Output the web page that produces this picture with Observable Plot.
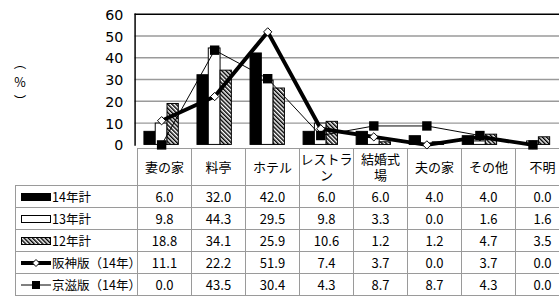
<!DOCTYPE html>
<html><head><meta charset="utf-8">
<script src="https://cdn.jsdelivr.net/npm/d3@7"></script>
<script src="https://cdn.jsdelivr.net/npm/@observablehq/plot@0.6"></script>
<style>
html,body{margin:0;padding:0;background:#fff;overflow:hidden;width:559px;height:297px}
#wrap{position:relative;width:559px;height:297px;overflow:hidden}
#chart{position:absolute;left:0;top:0;z-index:2}
#chart svg{background:transparent !important;overflow:visible}
#ylab{position:absolute;left:11px;top:53px;width:18px;text-align:center;font:12.5px/19px "Noto Sans CJK JP";color:#000}
#ylab span{display:block}
table{position:absolute;left:15px;top:148px;border-collapse:collapse;table-layout:fixed;width:554px;
  font-family:"Noto Sans CJK JP";font-size:13px;color:#000;z-index:1}
td,th{border:1px solid #9a9a9a;padding:0;text-align:center;font-weight:normal;white-space:pre-line;line-height:16px}
tr.hdr th{height:36px}
tr.hdr th.blank{border-top:none;border-left:none}
tr.row td{height:21px}
td.leg{text-align:left;padding-left:5px;white-space:nowrap;font-size:12.5px}
td.leg svg{vertical-align:middle;margin-right:1px;position:relative;top:-1px}
</style></head><body><div id="wrap"><div id="ylab"><span>︵</span><span>%</span><span>︶</span></div></div>
<script>
const categories = ["妻の家","料亭","ホテル","レストラン","結婚式場","夫の家","その他","不明"];
const headerLabels = ["妻の家","料亭","ホテル","レストラ\nン","結婚式\n場","夫の家","その他","不明"];
const seriesNames = ["14年計","13年計","12年計","阪神版（14年）","京滋版（14年）"];
const y14 = [6.0,32.0,42.0,6.0,6.0,4.0,4.0,0.0];
const y13 = [9.8,44.3,29.5,9.8,3.3,0.0,1.6,1.6];
const y12 = [18.8,34.1,25.9,10.6,1.2,1.2,4.7,3.5];
const hanshin = [11.1,22.2,51.9,7.4,3.7,0.0,3.7,0.0];
const keiji = [0.0,43.5,30.4,4.3,8.7,8.7,4.3,0.0];
const yTicks = [0,10,20,30,40,50,60];
const gridTicks = [10,20,30,40,50];

const data = categories.map((c,i)=>({cat:c,y14:y14[i],y13:y13[i],y12:y12[i],hanshin:hanshin[i],keiji:keiji[i]}));

const plot = Plot.plot({
  width:569, height:152, marginLeft:137, marginRight:0, marginTop:14, marginBottom:5,
  x:{domain:categories, padding:0, axis:null},
  y:{domain:[0,60], axis:null},
  marks:[
    Plot.ruleY(gridTicks,{stroke:"#9a9a9a",strokeWidth:1.5}),
    Plot.ruleY([60],{stroke:"#000",strokeWidth:1.5}),
    Plot.frame({anchor:"left",stroke:"#000",strokeWidth:1.5}),
    Plot.barY(data,{x:"cat",y:"y14",fill:"#000",stroke:"#000",strokeWidth:1,insetLeft:9.5,insetRight:33}),
    Plot.barY(data,{x:"cat",y:"y13",fill:"#fff",stroke:"#000",strokeWidth:1,insetLeft:21,insetRight:21}),
    Plot.barY(data,{x:"cat",y:"y12",fill:"url(#hatch)",stroke:"#000",strokeWidth:1,insetLeft:33,insetRight:9.5}),
    Plot.lineY(data,{x:"cat",y:"keiji",stroke:"#000",strokeWidth:1}),
    Plot.lineY(data,{x:"cat",y:"hanshin",stroke:"#000",strokeWidth:4}),
    Plot.dot(data,{x:"cat",y:"hanshin",symbol:"diamond2",r:3.8,fill:"#fff",stroke:"#000",strokeWidth:1}),
    Plot.dot(data,{x:"cat",y:"keiji",symbol:"square",r:5.4,fill:"#000",stroke:"none"}),
    Plot.axisY({ticks:yTicks,tickSize:0,tickPadding:12,fontSize:14.5,fontFamily:"DejaVu Sans",label:null,dy:1})
  ]
});
const svgNS="http://www.w3.org/2000/svg";
const defs=document.createElementNS(svgNS,"defs");
defs.innerHTML='<pattern id="hatch" patternUnits="userSpaceOnUse" width="3" height="3" patternTransform="rotate(-45)"><rect width="3" height="3" fill="#fff"/><rect width="1.5" height="3" fill="#000"/></pattern>';
plot.insertBefore(defs,plot.firstChild);

const wrap=document.getElementById("wrap");
const chart=document.createElement("div");chart.id="chart";chart.appendChild(plot);wrap.appendChild(chart);

const sw=[
 '<svg width="30" height="10"><rect x="0.5" y="1.5" width="29" height="7" fill="#000" stroke="#000"/></svg>',
 '<svg width="30" height="10"><rect x="0.5" y="1.5" width="29" height="7" fill="#fff" stroke="#000"/></svg>',
 '<svg width="30" height="10"><defs><pattern id="hatch2" patternUnits="userSpaceOnUse" width="3" height="3" patternTransform="rotate(-45)"><rect width="3" height="3" fill="#fff"/><rect width="1.5" height="3" fill="#000"/></pattern></defs><rect x="0.5" y="1.5" width="29" height="7" fill="url(#hatch2)" stroke="#000"/></svg>',
 '<svg width="30" height="10"><line x1="0" y1="5" x2="30" y2="5" stroke="#000" stroke-width="4"/><path d="M15,1.5L18.5,5L15,8.5L11.5,5Z" fill="#fff" stroke="#000"/></svg>',
 '<svg width="30" height="10"><line x1="0" y1="5" x2="30" y2="5" stroke="#000" stroke-width="1"/><rect x="11" y="1" width="8" height="8" fill="#000"/></svg>'
];
const values=[y14,y13,y12,hanshin,keiji];
const table=document.createElement("table");
let html='<colgroup><col style="width:122px">'+categories.map(()=>'<col style="width:54px">').join("")+'</colgroup>';
html+='<tr class="hdr"><th class="blank"></th>'+headerLabels.map(h=>'<th>'+h+'</th>').join("")+'</tr>';
seriesNames.forEach((n,k)=>{
  html+='<tr class="row"><td class="leg">'+sw[k]+n+'</td>'+values[k].map(v=>'<td>'+v.toFixed(1)+'</td>').join("")+'</tr>';
});
table.innerHTML=html;
wrap.appendChild(table);
</script>
</body></html>
